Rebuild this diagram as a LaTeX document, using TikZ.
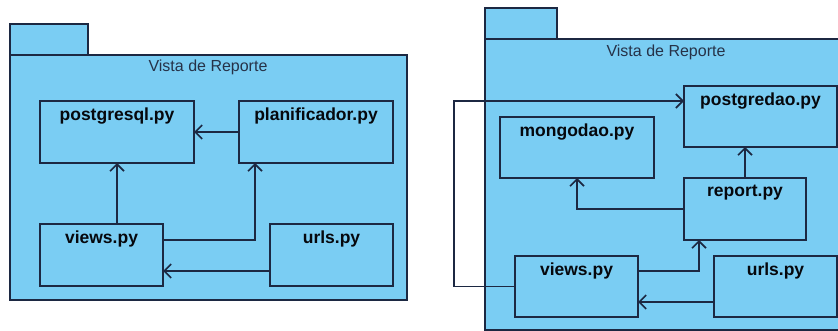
\documentclass[tikz,border=0pt]{standalone}
\usepackage{fontspec}
\setmainfont{Liberation Sans}
\usetikzlibrary{arrows.meta}

\definecolor{pkgfill}{RGB}{122,205,243}
\definecolor{pkgline}{RGB}{28,40,66}
\definecolor{titletext}{RGB}{38,50,72}

\tikzset{
  pkg/.style={draw=pkgline, fill=pkgfill, line width=1.6pt},
  modbox/.style={draw=pkgline, fill=pkgfill, line width=1.6pt, rectangle,
    anchor=north west, inner sep=0pt, outer sep=0pt},
  modlabel/.style={font=\fontsize{17.5}{20}\selectfont\bfseries, text=black!80!pkgline,
    anchor=north, inner sep=0pt},
  pkgtitle/.style={font=\fontsize{16}{18}\selectfont, text=titletext, inner sep=0pt},
  dep/.style={draw=pkgline, line width=1.6pt,
    -{Straight Barb[length=7pt,width=14pt,line width=1.6pt]}},
}

\begin{document}
\begin{tikzpicture}[x=1pt,y=-1pt]
\useasboundingbox (0,0) rectangle (838,331);
\clip (0,0) rectangle (838,331);

% ---------- left package ----------
\draw[pkg] (10,24) rectangle (88,55);
\draw[pkg] (10,55) rectangle (407,300);
\node[pkgtitle] (title1) at (208,67) {Vista de Reporte};

\node[modbox, minimum width=154pt, minimum height=62pt] (pg) at (40,101) {};
\node[modbox, minimum width=154pt, minimum height=62pt] (plan) at (239,101) {};
\node[modbox, minimum width=123pt, minimum height=62pt] (views) at (40,224) {};
\node[modbox, minimum width=123pt, minimum height=62pt] (urls) at (270,224) {};

\node[modlabel] (pgT) at ([yshift=-7pt]pg.north) {postgresql.py};
\node[modlabel] (planT) at ([yshift=-7pt]plan.north) {planificador.py};
\node[modlabel] (viewsT) at ([yshift=-7pt]views.north) {views.py};
\node[modlabel] (urlsT) at ([yshift=-7pt]urls.north) {urls.py};

\coordinate (k1) at (255,240);
\coordinate (k2) at (0,271);
\coordinate (k0) at (117,0);

\draw[dep] (plan.west) -- (pg.east);
\draw[dep] (views.north -| k0) -- (pg.south -| k0);
\draw[dep] (views.east |- k1) -| (plan.south -| k1);
\draw[dep] (urls.west |- k2) -- (views.east |- k2);

% ---------- right package ----------
\draw[pkg] (485,8) rectangle (557,39);
\draw[pkg] (485,39) rectangle (850,330);
\node[pkgtitle] (title2) at (666,52) {Vista de Reporte};

\node[modbox, minimum width=153pt, minimum height=61pt] (pgd) at (684,86) {};
\node[modbox, minimum width=154pt, minimum height=61pt] (mongo) at (500,117) {};
\node[modbox, minimum width=122pt, minimum height=62pt] (rep) at (684,178) {};
\node[modbox, minimum width=123pt, minimum height=61pt] (views2) at (515,256) {};
\node[modbox, minimum width=123pt, minimum height=61pt] (urls2) at (714,256) {};

\node[modlabel] (pgdT) at ([yshift=-7pt]pgd.north) {postgredao.py};
\node[modlabel] (mongoT) at ([yshift=-7pt]mongo.north) {mongodao.py};
\node[modlabel] (repT) at ([yshift=-7pt]rep.north) {report.py};
\node[modlabel] (views2T) at ([yshift=-7pt]views2.north) {views.py};
\node[modlabel] (urls2T) at ([yshift=-7pt]urls2.north) {urls.py};

\coordinate (k3) at (454,101);
\coordinate (k4) at (699,271);
\coordinate (k5) at (0,302);

\draw[dep] (views2.west) -| (k3) -- (pgd.west |- k3);
\draw[dep] (rep.west) -| (mongo.south);
\draw[dep] (rep.north) -- (pgd.south -| rep.north);
\draw[dep] (views2.east |- k4) -| (rep.south -| k4);
\draw[dep] (urls2.west |- k5) -- (views2.east |- k5);
\end{tikzpicture}
\end{document}
